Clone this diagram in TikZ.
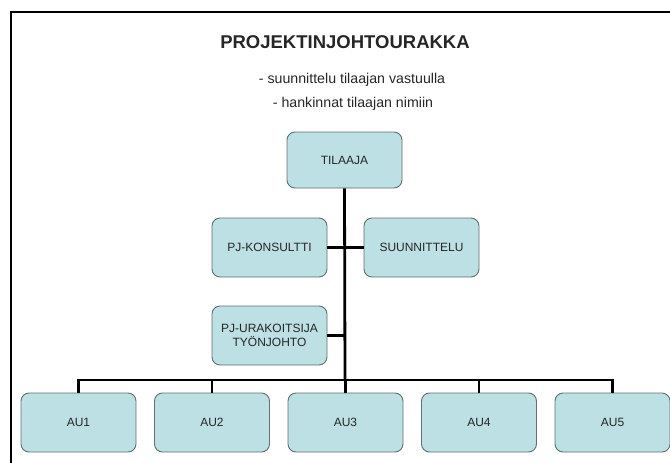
\documentclass[tikz,border=0pt]{standalone}
\usepackage{fontspec}
\setmainfont{Liberation Sans}
\usetikzlibrary{calc}
\definecolor{boxfill}{RGB}{188,224,227}
\definecolor{boxdraw}{RGB}{100,110,112}
\tikzset{
  orgbox/.style={draw=boxdraw, line width=0.9pt, fill=boxfill, rounded corners=8pt,
    minimum width=115pt, minimum height=58pt, inner sep=2pt, align=center,
    font=\fontsize{12}{13.5}\selectfont, text=black!85},
  conn/.style={line width=2.8pt, black},
  txt/.style={inner sep=0pt, text=black!85}
}
\begin{document}
\begin{tikzpicture}[x=1pt,y=1pt]
\useasboundingbox (0,0) rectangle (670,-463);
% frame
\draw[line width=1.6pt] (11,-463) -- (11,-12) -- (670,-12);
% texts
\node[txt, font=\fontsize{18.5}{20}\bfseries\selectfont] (title) at (345,-42) {PROJEKTINJOHTOURAKKA};
\node[txt, font=\fontsize{14.2}{16}\selectfont] (l1) at (352,-80) {- suunnittelu tilaajan vastuulla};
\node[txt, font=\fontsize{14.2}{16}\selectfont] (l2) at (353,-104) {- hankinnat tilaajan nimiin};
% boxes
\node[orgbox, minimum height=56pt] (til) at (344.5,-160) {TILAAJA};
\node[orgbox, minimum height=59pt] (pjk) at (269.5,-247.5) {PJ-KONSULTTI};
\node[orgbox, minimum height=59pt] (suu) at (421.5,-247.5) {SUUNNITTELU};
\node[orgbox, minimum height=59pt] (pju) at (269.5,-335.5) {PJ-URAKOITSIJA\\TYÖNJOHTO};
\foreach \i/\x in {1/78.5,2/212,3/345.5,4/479,5/612.5}{
  \node[orgbox, minimum height=59pt] (au\i) at (\x,-422.5) {AU\i};
}
\coordinate (bus) at (345,-380);
% connectors
\draw[conn] (til.south) -- (bus);
\draw[conn] (pjk.east) -- (suu.west);
\draw[conn] (pju.east) -- (pju.east -| bus);
\draw[conn] (au1.north) |- (bus) -| (au5.north);
\foreach \i in {2,3,4}{
  \draw[conn] (au\i.north) -- (au\i.north |- bus);
}
\end{tikzpicture}
\end{document}
